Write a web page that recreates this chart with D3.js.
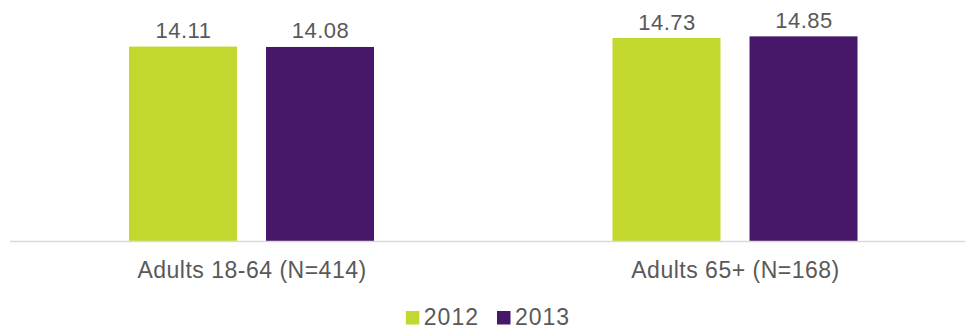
<!DOCTYPE html>
<html>
<head>
<meta charset="utf-8">
<script src="https://cdn.jsdelivr.net/npm/d3@7/dist/d3.min.js"></script>
<style>
  html, body { margin: 0; padding: 0; background: #fff; }
  svg { display: block; font-family: "Liberation Sans", Arial, sans-serif; }
</style>
</head>
<body>
<svg id="chart" width="965" height="330"></svg>
<script>
// Average values by age group and year
const categories = ["Adults 18-64 (N=414)", "Adults 65+ (N=168)"];
const seriesNames = ["2012", "2013"];
const values2012 = [14.11, 14.73];
const values2013 = [14.08, 14.85];

const colors = { "2012": "#c3d82e", "2013": "#47176a" };
const textColor = "#595959";

const svg = d3.select("#chart");
const baseY = 241;

const x0 = d3.scaleBand().domain(categories).range([10, 977]).paddingInner(0).paddingOuter(0);
const x1 = d3.scaleBand().domain(seriesNames).range([119, 364]).paddingInner(0.212).paddingOuter(0);
const y = d3.scaleLinear().domain([0, 16]).range([baseY, baseY - 16 * 13.78]);

const rows = categories.map((c, i) => ({
  category: c,
  items: [
    { series: "2012", value: values2012[i] },
    { series: "2013", value: values2013[i] }
  ]
}));

const groups = svg.selectAll("g.group")
  .data(rows)
  .join("g")
  .attr("class", "group")
  .attr("transform", d => `translate(${x0(d.category)},0)`);

groups.selectAll("rect")
  .data(d => d.items)
  .join("rect")
  .attr("x", d => x1(d.series))
  .attr("y", d => y(d.value))
  .attr("width", x1.bandwidth())
  .attr("height", d => y(0) - y(d.value))
  .attr("fill", d => colors[d.series]);

groups.selectAll("text.value")
  .data(d => d.items)
  .join("text")
  .attr("class", "value")
  .attr("x", d => x1(d.series) + x1.bandwidth() / 2 + 0.5)
  .attr("y", d => y(d.value) - 8.5)
  .attr("text-anchor", "middle")
  .attr("fill", textColor)
  .style("font-size", "22px")
  .style("letter-spacing", "0.5px")
  .text(d => d.value.toFixed(2));

// Category axis
const axis = svg.append("g").attr("transform", `translate(0,${baseY})`)
  .call(d3.axisBottom(x0).tickSize(0).tickPadding(0));
axis.select(".domain").remove();
axis.append("line")
  .attr("x1", 10).attr("x2", 965)
  .attr("y1", 0.5).attr("y2", 0.5)
  .attr("stroke", "#d9d9d9").attr("stroke-width", 1.5);
axis.selectAll(".tick text")
  .attr("x", 0.25)
  .attr("y", 37)
  .attr("dy", null)
  .attr("fill", textColor)
  .style("font-family", '"Liberation Sans", Arial, sans-serif')
  .style("font-size", "23px")
  .style("letter-spacing", "0.5px");

// Legend
const legend = svg.append("g");
let lx = 0;
seriesNames.forEach(name => {
  const item = legend.append("g").attr("transform", `translate(${lx},0)`);
  item.append("rect")
    .attr("x", 0).attr("y", 311)
    .attr("width", 13.5).attr("height", 13.5)
    .attr("fill", colors[name]);
  const t = item.append("text")
    .attr("x", 18).attr("y", 325)
    .attr("fill", textColor)
    .style("font-size", "23px")
    .style("letter-spacing", "1px")
    .text(name);
  lx += 18 + t.node().getComputedTextLength() + 18;
});
const legendWidth = lx - 18;
legend.attr("transform", `translate(${488 - legendWidth / 2},0)`);
</script>
</body>
</html>
